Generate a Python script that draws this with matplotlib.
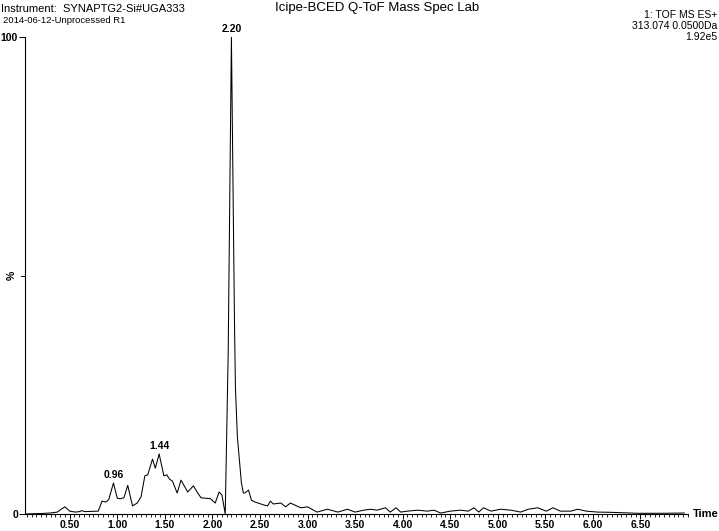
import matplotlib
matplotlib.use("Agg")
import matplotlib.pyplot as plt
from matplotlib.ticker import MultipleLocator, FixedLocator
import numpy as np

plt.rcParams['font.family'] = ['Liberation Sans', 'DejaVu Sans']

# chromatogram trace (time in min, relative intensity %)
time = [0.03, 0.20, 0.29, 0.37, 0.41, 0.45, 0.50, 0.56, 0.60, 0.63, 0.66, 0.80,
        0.84, 0.88, 0.91, 0.96, 1.00, 1.03, 1.07, 1.11, 1.16, 1.21, 1.25, 1.29,
        1.32, 1.37, 1.40, 1.44, 1.49, 1.52, 1.55, 1.58, 1.63, 1.67, 1.71, 1.74,
        1.80, 1.84, 1.88, 1.98, 2.03, 2.07, 2.10, 2.135, 2.166, 2.20, 2.232,
        2.242, 2.263, 2.284, 2.305, 2.326, 2.34, 2.38, 2.41, 2.45, 2.54, 2.58,
        2.61, 2.64, 2.72, 2.77, 2.82, 2.93, 3.00, 3.10, 3.21, 3.32, 3.42, 3.50,
        3.59, 3.66, 3.73, 3.82, 3.87, 3.93, 3.98, 4.05, 4.16, 4.26, 4.33, 4.40,
        4.50, 4.61, 4.69, 4.75, 4.80, 4.85, 4.93, 5.03, 5.14, 5.24, 5.32, 5.42,
        5.51, 5.58, 5.66, 5.77, 5.84, 5.93, 6.05, 6.19, 6.47, 6.75, 6.96]
intensity = [0.0, 0.1, 0.2, 0.4, 1.0, 1.5, 0.6, 0.4, 0.5, 0.7, 0.5, 0.6,
             2.7, 2.5, 3.0, 6.5, 3.3, 3.2, 3.4, 6.0, 1.7, 2.3, 3.6, 8.0,
             8.2, 11.5, 9.6, 12.6, 8.0, 8.2, 7.3, 6.9, 4.4, 7.1, 5.7, 4.6,
             5.9, 4.6, 3.4, 3.2, 2.3, 4.6, 4.0, 0.0, 33.7, 100.0, 40.7,
             26.6, 16.1, 11.3, 6.5, 4.4, 4.4, 5.0, 2.9, 2.5, 1.9, 1.7,
             2.7, 2.1, 2.3, 1.5, 2.3, 1.3, 1.5, 0.4, 1.0, 0.4, 1.0, 0.4,
             0.8, 1.0, 0.8, 1.3, 0.4, 1.3, 0.4, 0.6, 0.8, 0.6, 0.8, 0.2,
             0.6, 0.8, 0.6, 1.3, 0.4, 1.3, 0.6, 1.0, 0.8, 0.4, 1.0, 1.3,
             0.6, 1.3, 0.6, 0.6, 1.0, 0.6, 0.4, 0.35, 0.15, 0.15, 0.2]

peak_times = [0.96, 1.44, 2.20]
peak_labels = ['0.96', '1.44', '2.20']

fig = plt.figure(figsize=(7.19, 5.31), dpi=100)
ax = fig.add_axes([25 / 719, 17 / 531, 663 / 719, 477 / 531])

ax.plot(time, intensity, color='black', linewidth=0.75)
ax.set_xlim(0.03, 7.0)
ax.set_ylim(0, 100)

for s in ['top', 'right']:
    ax.spines[s].set_visible(False)
for s in ['left', 'bottom']:
    ax.spines[s].set_linewidth(0.8)

ax.xaxis.set_major_locator(FixedLocator(np.arange(0.5, 6.6, 0.5)))
ax.xaxis.set_minor_locator(MultipleLocator(0.05))
ax.set_xticklabels(['%.2f' % v for v in np.arange(0.5, 6.6, 0.5)],
                   fontsize=7.5, fontweight='bold')
ax.tick_params(axis='x', which='major', direction='out', length=3.5, width=0.7, pad=0.5)
ax.tick_params(axis='x', which='minor', direction='out', length=2, width=0.6)

ax.set_yticks([0, 100])
ax.set_yticklabels(['0', '100'], fontsize=7.5, fontweight='bold')
ax.tick_params(axis='y', which='major', direction='out', length=4, width=0.7, pad=1)

# "%" label at mid height
ax.text(-0.012, 50, '%', transform=ax.get_yaxis_transform(), rotation=90,
        ha='right', va='center', fontsize=7.5, fontweight='bold')
ax.plot([-0.006, 0], [50, 50], transform=ax.get_yaxis_transform(),
        color='black', linewidth=0.7, clip_on=False)

# x axis name at right end
ax.text(1.007, 0, 'Time', transform=ax.transAxes, ha='left', va='center',
        fontsize=8, fontweight='bold')

# peak labels
for t, lab in zip(peak_times, peak_labels):
    v = np.interp(t, time, intensity)
    ax.annotate(lab, (t, v), xytext=(0, 2), textcoords='offset points',
                ha='center', va='bottom', fontsize=7.5, fontweight='bold')

# header text
fig.text(0.001, 0.993, 'Instrument:  SYNAPTG2-Si#UGA333', ha='left', va='top', fontsize=8.0)
fig.text(0.004, 0.970, '2014-06-12-Unprocessed R1', ha='left', va='top', fontsize=6.8)
fig.text(0.525, 0.996, 'Icipe-BCED Q-ToF Mass Spec Lab', ha='center', va='top', fontsize=9.5)
fig.text(0.998, 0.982, '1: TOF MS ES+\n313.074 0.0500Da\n1.92e5', ha='right', va='top',
         fontsize=7.5, linespacing=1.15)

fig.savefig('out.png', dpi=100)
